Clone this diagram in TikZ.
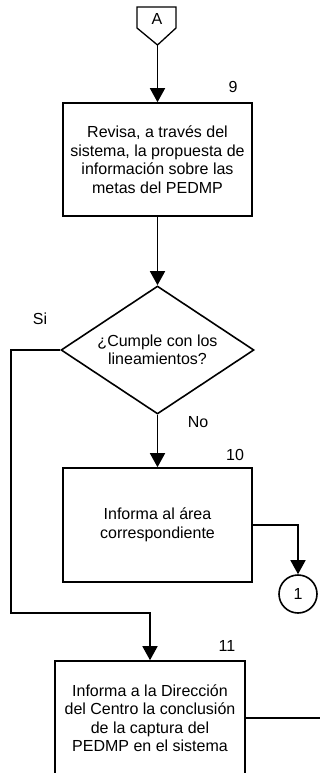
\documentclass[tikz,border=0pt]{standalone}
\usepackage{fontspec}
\setmainfont{Liberation Sans}
\usetikzlibrary{arrows.meta,shapes.geometric,calc}
\begin{document}
\begin{tikzpicture}[x=1pt,y=-1pt,
  line width=1.6pt,
  every node/.style={font=\fontsize{16}{18.5}\selectfont},
  procbox/.style={draw,rectangle,align=center,minimum width=189pt,minimum height=113pt,inner sep=0pt},
  decision/.style={draw,diamond,align=center,minimum width=193pt,minimum height=128pt,inner sep=0pt,aspect=1.5},
  conncircle/.style={draw,circle,minimum size=38pt,inner sep=0pt},
  tag/.style={inner sep=0pt},
  arr/.style={-{Triangle[length=14pt,width=15pt]}}
]
\useasboundingbox (0,0) rectangle (320,773);
\clip (0,0) rectangle (320,773);
% off-page connector A
\draw[line width=1.3pt] (137,7) -- (176,7) -- (176,28) -- (157.5,45) -- (137,28) -- cycle;
\node[tag] (Alabel) at (157,19) {A};
\coordinate (Atip) at (157.5,45);
% boxes
\node[procbox] (b1) at (157.5,159.5) {Revisa, a través del\\sistema, la propuesta de\\información sobre las\\metas del PEDMP};
\node[decision] (d) at (157.5,350) {¿Cumple con los\\lineamientos?};
\node[procbox,minimum height=114pt] (b2) at (157.5,525) {Informa al área\\correspondiente};
\node[conncircle] (c1) at (298,594) {1};
\node[procbox,minimum width=190pt,minimum height=114pt] (b3) at (150,718) {Informa a la Dirección\\del Centro la conclusión\\de la captura del\\PEDMP en el sistema};
% numbers and labels
\node[tag] (n9) at (233,87) {9};
\node[tag] (n10) at (235,455) {10};
\node[tag] (n11) at (227,646) {11};
\node[tag] (si) at (40,319) {Si};
\node[tag] (no) at (198,422) {No};
% connectors
\draw[arr] (Atip) -- (b1.north);
\draw[arr] (b1.south) -- (d.north);
\draw[arr] (d.south) -- (b2.north);
\draw[arr] (b2.east) -| (c1.north);
\coordinate (k1) at (11,350);
\coordinate (k2) at (11,613);
\draw[arr] (d.west) -- (k1) -- (k2) -| (b3.north);
\coordinate (e3) at (325,718);
\draw (b3.east) -- (e3);
\end{tikzpicture}
\end{document}
